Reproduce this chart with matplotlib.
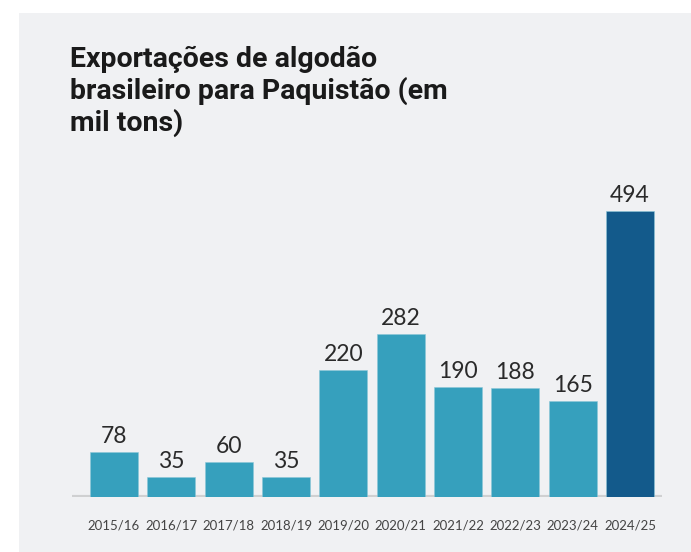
import matplotlib
matplotlib.use("Agg")
import matplotlib.pyplot as plt
from matplotlib.patches import Rectangle

# data
safras = ["2015/16", "2016/17", "2017/18", "2018/19", "2019/20",
          "2020/21", "2021/22", "2022/23", "2023/24", "2024/25"]
mil_tons = [78, 35, 60, 35, 220, 282, 190, 188, 165, 494]

title_lines = ["Exportações de algodão",
               "brasileiro para Paquistão (em",
               "mil tons)"]

light = "#36a0bd"
dark = "#135a8b"
cores = [light] * 9 + [dark]

W, H = 691, 552
fig = plt.figure(figsize=(W / 100, H / 100), dpi=100)
fig.patch.set_facecolor("white")
# grey panel behind everything
fig.patches.append(Rectangle((19 / W, 0), 1 - 19 / W, 1 - 13 / H,
                             transform=fig.transFigure, facecolor="#f0f1f3",
                             edgecolor="none", zorder=-10))

# title, one line at a time
baselines = [67, 99, 131]
for txt, yb in zip(title_lines, baselines):
    fig.text(70 / W, 1 - yb / H, txt, fontsize=20.5, fontweight="bold",
             family="Roboto", color="#1a1a1a", va="baseline", ha="left")

ax = fig.add_axes([72 / W, (H - 497) / H, (662 - 72) / W, 347 / H])
ax.set_facecolor("none")
ax.set_zorder(2)

x = list(range(len(safras)))
bars = ax.bar(x, mil_tons, width=0.837, color=cores, edgecolor="#8cc7d8",
              linewidth=0.4, zorder=3)

for xi, v in zip(x, mil_tons):
    ax.annotate(str(v), (xi, v), xytext=(0, 6.5), textcoords="offset points",
                ha="center", va="baseline", fontsize=16.5, family="Lato",
                color="#2a2a2a")

ax.axhline(0, color="#cfd0d1", linewidth=3, zorder=2)

ax.set_xlim(-0.733, 9.558)
ax.set_ylim(0, 599)
ax.set_xticks(x)
ax.set_xticklabels(safras, fontsize=9.5, family="Lato", color="#444444")
ax.tick_params(axis="x", length=0, pad=16)
ax.set_yticks([])
for s in ax.spines.values():
    s.set_visible(False)

fig.savefig("out.png", dpi=100)
